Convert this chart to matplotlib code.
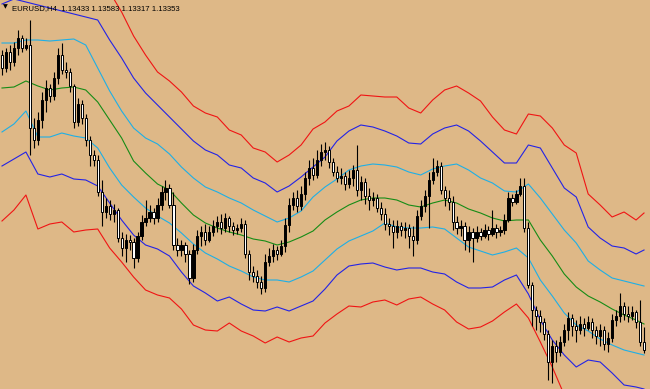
# EURUSD H4: свечи + полосы вокруг скользящей средней
import matplotlib
matplotlib.use('Agg')
import matplotlib.pyplot as plt

SYMBOL = 'EURUSD,H4'
LAST_OHLC = [1.13433, 1.13583, 1.13317, 1.13353]

# свечи, по 10 в строке
opens = [
    1.1630, 1.1617, 1.1633, 1.1623, 1.1637, 1.1647, 1.1637, 1.1640, 1.1557, 1.1545,
    1.1565, 1.1585, 1.1597, 1.1589, 1.1607, 1.1630, 1.1615, 1.1613, 1.1599, 1.1563,
    1.1581, 1.1567, 1.1545, 1.1530, 1.1525, 1.1493, 1.1473, 1.1479, 1.1471, 1.1475,
    1.1447, 1.1437, 1.1445, 1.1443, 1.1427, 1.1449, 1.1463, 1.1467, 1.1473, 1.1467,
    1.1480, 1.1493, 1.1497, 1.1480, 1.1440, 1.1435, 1.1440, 1.1431, 1.1407, 1.1435,
    1.1449, 1.1453, 1.1445, 1.1453, 1.1459, 1.1463, 1.1457, 1.1467, 1.1459, 1.1455,
    1.1457, 1.1461, 1.1431, 1.1413, 1.1409, 1.1403, 1.1397, 1.1423, 1.1429, 1.1435,
    1.1431, 1.1439, 1.1460, 1.1480, 1.1487, 1.1479, 1.1491, 1.1507, 1.1517, 1.1510,
    1.1525, 1.1533, 1.1535, 1.1523, 1.1513, 1.1507, 1.1509, 1.1501, 1.1507, 1.1515,
    1.1495, 1.1503, 1.1489, 1.1485, 1.1487, 1.1477, 1.1471, 1.1461, 1.1459, 1.1453,
    1.1459, 1.1455, 1.1457, 1.1449, 1.1445, 1.1469, 1.1479, 1.1489, 1.1505, 1.1513,
    1.1519, 1.1495, 1.1487, 1.1483, 1.1463, 1.1457, 1.1459, 1.1445, 1.1453, 1.1447,
    1.1453, 1.1449, 1.1455, 1.1451, 1.1457, 1.1453, 1.1455, 1.1465, 1.1487, 1.1483,
    1.1491, 1.1499, 1.1457, 1.1400, 1.1375, 1.1369, 1.1363, 1.1351, 1.1323, 1.1339,
    1.1333, 1.1343, 1.1355, 1.1367, 1.1359, 1.1355, 1.1361, 1.1357, 1.1363, 1.1355,
    1.1349, 1.1355, 1.1341, 1.1347, 1.1365, 1.1369, 1.1379, 1.1371, 1.1369, 1.1373,
    1.1363, LAST_OHLC[0],
]
highs = [
    1.1635, 1.1637, 1.1640, 1.1643, 1.1655, 1.1650, 1.1647, 1.1665, 1.1567, 1.1573,
    1.1593, 1.1605, 1.1601, 1.1613, 1.1637, 1.1642, 1.1623, 1.1617, 1.1601, 1.1587,
    1.1585, 1.1571, 1.1549, 1.1535, 1.1530, 1.1505, 1.1487, 1.1485, 1.1481, 1.1477,
    1.1453, 1.1451, 1.1450, 1.1447, 1.1453, 1.1470, 1.1485, 1.1480, 1.1477, 1.1487,
    1.1499, 1.1505, 1.1501, 1.1493, 1.1447, 1.1445, 1.1443, 1.1435, 1.1441, 1.1455,
    1.1459, 1.1461, 1.1459, 1.1465, 1.1469, 1.1471, 1.1472, 1.1469, 1.1463, 1.1461,
    1.1467, 1.1465, 1.1435, 1.1419, 1.1415, 1.1409, 1.1431, 1.1437, 1.1441, 1.1439,
    1.1445, 1.1467, 1.1487, 1.1493, 1.1495, 1.1499, 1.1513, 1.1525, 1.1527, 1.1535,
    1.1541, 1.1543, 1.1539, 1.1527, 1.1519, 1.1517, 1.1513, 1.1515, 1.1520, 1.1540,
    1.1509, 1.1507, 1.1497, 1.1493, 1.1491, 1.1483, 1.1477, 1.1467, 1.1465, 1.1465,
    1.1463, 1.1463, 1.1461, 1.1459, 1.1475, 1.1485, 1.1495, 1.1513, 1.1527, 1.1525,
    1.1523, 1.1499, 1.1495, 1.1489, 1.1469, 1.1465, 1.1463, 1.1459, 1.1457, 1.1459,
    1.1457, 1.1461, 1.1459, 1.1475, 1.1461, 1.1459, 1.1471, 1.1493, 1.1491, 1.1495,
    1.1507, 1.1507, 1.1463, 1.1403, 1.1379, 1.1375, 1.1367, 1.1355, 1.1345, 1.1345,
    1.1349, 1.1361, 1.1373, 1.1371, 1.1365, 1.1369, 1.1367, 1.1369, 1.1367, 1.1359,
    1.1361, 1.1359, 1.1353, 1.1371, 1.1375, 1.1392, 1.1383, 1.1379, 1.1379, 1.1375,
    1.1385, LAST_OHLC[1],
]
lows = [
    1.1610, 1.1613, 1.1615, 1.1619, 1.1630, 1.1633, 1.1635, 1.1530, 1.1537, 1.1540,
    1.1557, 1.1573, 1.1583, 1.1585, 1.1601, 1.1611, 1.1607, 1.1593, 1.1557, 1.1559,
    1.1561, 1.1539, 1.1519, 1.1519, 1.1489, 1.1459, 1.1467, 1.1465, 1.1463, 1.1443,
    1.1429, 1.1423, 1.1435, 1.1417, 1.1423, 1.1445, 1.1459, 1.1463, 1.1461, 1.1463,
    1.1475, 1.1485, 1.1477, 1.1435, 1.1429, 1.1429, 1.1423, 1.1401, 1.1403, 1.1431,
    1.1439, 1.1440, 1.1443, 1.1449, 1.1453, 1.1451, 1.1453, 1.1453, 1.1450, 1.1451,
    1.1453, 1.1427, 1.1405, 1.1403, 1.1397, 1.1391, 1.1393, 1.1419, 1.1423, 1.1425,
    1.1429, 1.1433, 1.1453, 1.1475, 1.1473, 1.1475, 1.1485, 1.1500, 1.1505, 1.1507,
    1.1519, 1.1525, 1.1517, 1.1509, 1.1503, 1.1501, 1.1495, 1.1497, 1.1499, 1.1489,
    1.1485, 1.1481, 1.1475, 1.1479, 1.1473, 1.1465, 1.1455, 1.1450, 1.1437, 1.1447,
    1.1449, 1.1447, 1.1437, 1.1429, 1.1441, 1.1465, 1.1473, 1.1457, 1.1501, 1.1509,
    1.1491, 1.1479, 1.1475, 1.1455, 1.1451, 1.1449, 1.1435, 1.1433, 1.1423, 1.1443,
    1.1445, 1.1447, 1.1445, 1.1449, 1.1447, 1.1449, 1.1451, 1.1463, 1.1479, 1.1481,
    1.1489, 1.1453, 1.1397, 1.1359, 1.1355, 1.1353, 1.1345, 1.1305, 1.1302, 1.1323,
    1.1329, 1.1339, 1.1345, 1.1349, 1.1343, 1.1351, 1.1349, 1.1355, 1.1347, 1.1341,
    1.1339, 1.1335, 1.1333, 1.1343, 1.1359, 1.1363, 1.1365, 1.1363, 1.1365, 1.1357,
    1.1339, LAST_OHLC[2],
]
closes = [
    1.1617, 1.1633, 1.1623, 1.1637, 1.1647, 1.1637, 1.1640, 1.1557, 1.1545, 1.1565,
    1.1585, 1.1597, 1.1589, 1.1607, 1.1630, 1.1615, 1.1613, 1.1599, 1.1563, 1.1581,
    1.1567, 1.1545, 1.1530, 1.1525, 1.1493, 1.1473, 1.1479, 1.1471, 1.1475, 1.1447,
    1.1437, 1.1445, 1.1443, 1.1427, 1.1449, 1.1463, 1.1467, 1.1473, 1.1467, 1.1480,
    1.1493, 1.1497, 1.1480, 1.1440, 1.1435, 1.1440, 1.1431, 1.1407, 1.1435, 1.1449,
    1.1453, 1.1445, 1.1453, 1.1459, 1.1463, 1.1457, 1.1467, 1.1459, 1.1455, 1.1457,
    1.1461, 1.1431, 1.1413, 1.1409, 1.1403, 1.1397, 1.1423, 1.1429, 1.1435, 1.1431,
    1.1439, 1.1460, 1.1480, 1.1487, 1.1479, 1.1491, 1.1507, 1.1517, 1.1510, 1.1525,
    1.1533, 1.1535, 1.1523, 1.1513, 1.1507, 1.1509, 1.1501, 1.1507, 1.1515, 1.1495,
    1.1503, 1.1489, 1.1485, 1.1487, 1.1477, 1.1471, 1.1461, 1.1459, 1.1453, 1.1459,
    1.1455, 1.1457, 1.1449, 1.1445, 1.1469, 1.1479, 1.1489, 1.1505, 1.1513, 1.1519,
    1.1495, 1.1487, 1.1483, 1.1463, 1.1457, 1.1459, 1.1445, 1.1453, 1.1447, 1.1453,
    1.1449, 1.1455, 1.1451, 1.1457, 1.1453, 1.1455, 1.1465, 1.1487, 1.1483, 1.1491,
    1.1499, 1.1457, 1.1400, 1.1375, 1.1369, 1.1363, 1.1351, 1.1323, 1.1339, 1.1333,
    1.1343, 1.1355, 1.1367, 1.1359, 1.1355, 1.1361, 1.1357, 1.1363, 1.1355, 1.1349,
    1.1355, 1.1341, 1.1347, 1.1365, 1.1369, 1.1379, 1.1371, 1.1369, 1.1373, 1.1363,
    1.1343, LAST_OHLC[3],
]

# линии индикатора: значения на каждом третьем баре и на последнем
band_bars = list(range(0, 160, 3)) + [161]
middle = [
    1.1597, 1.1598, 1.1604, 1.1599, 1.1595, 1.1597, 1.1598, 1.1595, 1.1583, 1.1565,
    1.1547, 1.1524, 1.1512, 1.1501, 1.1495, 1.1482, 1.1470, 1.1462, 1.1457, 1.1453,
    1.1450, 1.1446, 1.1444, 1.1440, 1.1443, 1.1448, 1.1454, 1.1465, 1.1473, 1.1480,
    1.1485, 1.1487, 1.1487, 1.1485, 1.1480, 1.1478, 1.1482, 1.1485, 1.1482, 1.1476,
    1.1472, 1.1467, 1.1464, 1.1465, 1.1465, 1.1445, 1.1429, 1.1411, 1.1398, 1.1389,
    1.1383, 1.1376, 1.1370, 1.1365, 1.1361,
]
upper1 = [
    1.1642, 1.1642, 1.1645, 1.1645, 1.1644, 1.1645, 1.1646, 1.1640, 1.1617, 1.1594,
    1.1574, 1.1557, 1.1547, 1.1541, 1.1531, 1.1518, 1.1507, 1.1498, 1.1493, 1.1487,
    1.1482, 1.1475, 1.1469, 1.1463, 1.1467, 1.1474, 1.1488, 1.1498, 1.1506, 1.1515,
    1.1519, 1.1521, 1.1520, 1.1518, 1.1513, 1.1510, 1.1516, 1.1519, 1.1521, 1.1515,
    1.1507, 1.1502, 1.1494, 1.1493, 1.1501, 1.1487, 1.1471, 1.1455, 1.1442, 1.1424,
    1.1415, 1.1407, 1.1404, 1.1401, 1.1399,
]
lower1 = [
    1.1553, 1.1561, 1.1574, 1.1548, 1.1548, 1.1552, 1.1549, 1.1547, 1.1537, 1.1517,
    1.1500, 1.1488, 1.1477, 1.1469, 1.1462, 1.1452, 1.1441, 1.1432, 1.1426, 1.1419,
    1.1414, 1.1408, 1.1405, 1.1405, 1.1403, 1.1408, 1.1414, 1.1425, 1.1436, 1.1444,
    1.1449, 1.1454, 1.1462, 1.1458, 1.1457, 1.1457, 1.1458, 1.1456, 1.1447, 1.1438,
    1.1434, 1.1430, 1.1433, 1.1437, 1.1427, 1.1405, 1.1389, 1.1372, 1.1360, 1.1354,
    1.1346, 1.1340, 1.1335, 1.1332, 1.1330,
]
upper2 = [
    1.1681, 1.1686, 1.1691, 1.1693, 1.1694, 1.1692, 1.1690, 1.1686, 1.1665, 1.1645,
    1.1627, 1.1607, 1.1592, 1.1580, 1.1568, 1.1556, 1.1544, 1.1535, 1.1530, 1.1520,
    1.1517, 1.1507, 1.1502, 1.1493, 1.1499, 1.1508, 1.1518, 1.1528, 1.1544, 1.1554,
    1.1560, 1.1558, 1.1554, 1.1549, 1.1542, 1.1541, 1.1551, 1.1557, 1.1560, 1.1554,
    1.1544, 1.1533, 1.1522, 1.1522, 1.1540, 1.1537, 1.1517, 1.1497, 1.1488, 1.1458,
    1.1447, 1.1439, 1.1437, 1.1431, 1.1435,
]
lower2 = [
    1.1519, 1.1526, 1.1533, 1.1511, 1.1508, 1.1511, 1.1506, 1.1505, 1.1499, 1.1482,
    1.1465, 1.1450, 1.1440, 1.1436, 1.1429, 1.1413, 1.1399, 1.1392, 1.1384, 1.1388,
    1.1381, 1.1375, 1.1374, 1.1378, 1.1374, 1.1379, 1.1384, 1.1396, 1.1410, 1.1419,
    1.1421, 1.1422, 1.1418, 1.1415, 1.1417, 1.1417, 1.1413, 1.1411, 1.1403, 1.1397,
    1.1397, 1.1398, 1.1405, 1.1410, 1.1391, 1.1365, 1.1345, 1.1330, 1.1318, 1.1325,
    1.1323, 1.1312, 1.1300, 1.1298, 1.1296,
]
upper3 = [
    1.1730, 1.1731, 1.1737, 1.1733, 1.1729, 1.1731, 1.1731, 1.1723, 1.1707, 1.1693,
    1.1673, 1.1649, 1.1630, 1.1613, 1.1604, 1.1593, 1.1579, 1.1572, 1.1568, 1.1555,
    1.1550, 1.1537, 1.1533, 1.1523, 1.1530, 1.1540, 1.1556, 1.1563, 1.1574, 1.1579,
    1.1590, 1.1589, 1.1588, 1.1588, 1.1577, 1.1572, 1.1585, 1.1595, 1.1599, 1.1592,
    1.1584, 1.1568, 1.1555, 1.1551, 1.1571, 1.1569, 1.1557, 1.1540, 1.1532, 1.1491,
    1.1480, 1.1468, 1.1473, 1.1465, 1.1472,
]
lower3 = [
    1.1464, 1.1475, 1.1490, 1.1456, 1.1461, 1.1463, 1.1453, 1.1455, 1.1456, 1.1437,
    1.1423, 1.1408, 1.1395, 1.1390, 1.1387, 1.1376, 1.1360, 1.1355, 1.1354, 1.1362,
    1.1354, 1.1349, 1.1342, 1.1348, 1.1343, 1.1347, 1.1349, 1.1362, 1.1371, 1.1379,
    1.1378, 1.1383, 1.1385, 1.1380, 1.1386, 1.1388, 1.1381, 1.1375, 1.1363, 1.1356,
    1.1358, 1.1364, 1.1373, 1.1381, 1.1367, 1.1343, 1.1318, 1.1290, 1.1280, 1.1285,
    1.1285, 1.1280, 1.1267, 1.1265, 1.1253,
]

BG = '#DEB887'
PRICE_TOP = 1.1685
PRICE_BOTTOM = 1.1296


def draw_bands(ax):
    # внешние полосы красные, затем синие, голубые, в центре зелёная
    lines = [
        (upper3, '#F01414'), (lower3, '#F01414'),
        (upper2, '#2323E6'), (lower2, '#2323E6'),
        (upper1, '#1EAFE6'), (lower1, '#1EAFE6'),
        (middle, '#168C16'),
    ]
    for values, color in lines:
        ax.plot(band_bars, values, color=color, lw=0.8, zorder=2)


def draw_candles(ax):
    n = len(opens)
    bars = list(range(n))
    ax.vlines(bars, lows, highs, color='black', lw=0.8, zorder=3)
    bottoms = [min(o, c) for o, c in zip(opens, closes)]
    heights = [max(abs(c - o), 0.00002) for o, c in zip(opens, closes)]
    # растущая свеча чёрная, падающая белая
    fills = ['black' if c >= o else 'white' for o, c in zip(opens, closes)]
    ax.bar(bars, heights, bottom=bottoms, width=0.55, color=fills,
           edgecolor='black', lw=0.7, zorder=4)


def main():
    fig = plt.figure(figsize=(6.5, 3.89), dpi=100, facecolor=BG)
    ax = fig.add_axes([0, 0, 1, 1])
    ax.set_facecolor(BG)

    draw_bands(ax)
    draw_candles(ax)

    ax.set_xlim(-0.5, len(opens) + 0.5)
    ax.set_ylim(PRICE_BOTTOM, PRICE_TOP)
    ax.set_xticks([])
    ax.set_yticks([])
    for s in ax.spines.values():
        s.set_visible(False)

    ohlc = ' '.join(f'{v:.5f}' for v in LAST_OHLC)
    fig.text(3 / 650, 1 - 8 / 389, '\u25bc', fontsize=4.5, color='black',
             family='DejaVu Sans', va='baseline')
    fig.text(12 / 650, 1 - 10 / 389, f'{SYMBOL}  {ohlc}', fontsize=5.6,
             color='black', family='Liberation Sans', va='baseline')

    fig.savefig('out.png', dpi=100, facecolor=BG)


if __name__ == '__main__':
    main()
